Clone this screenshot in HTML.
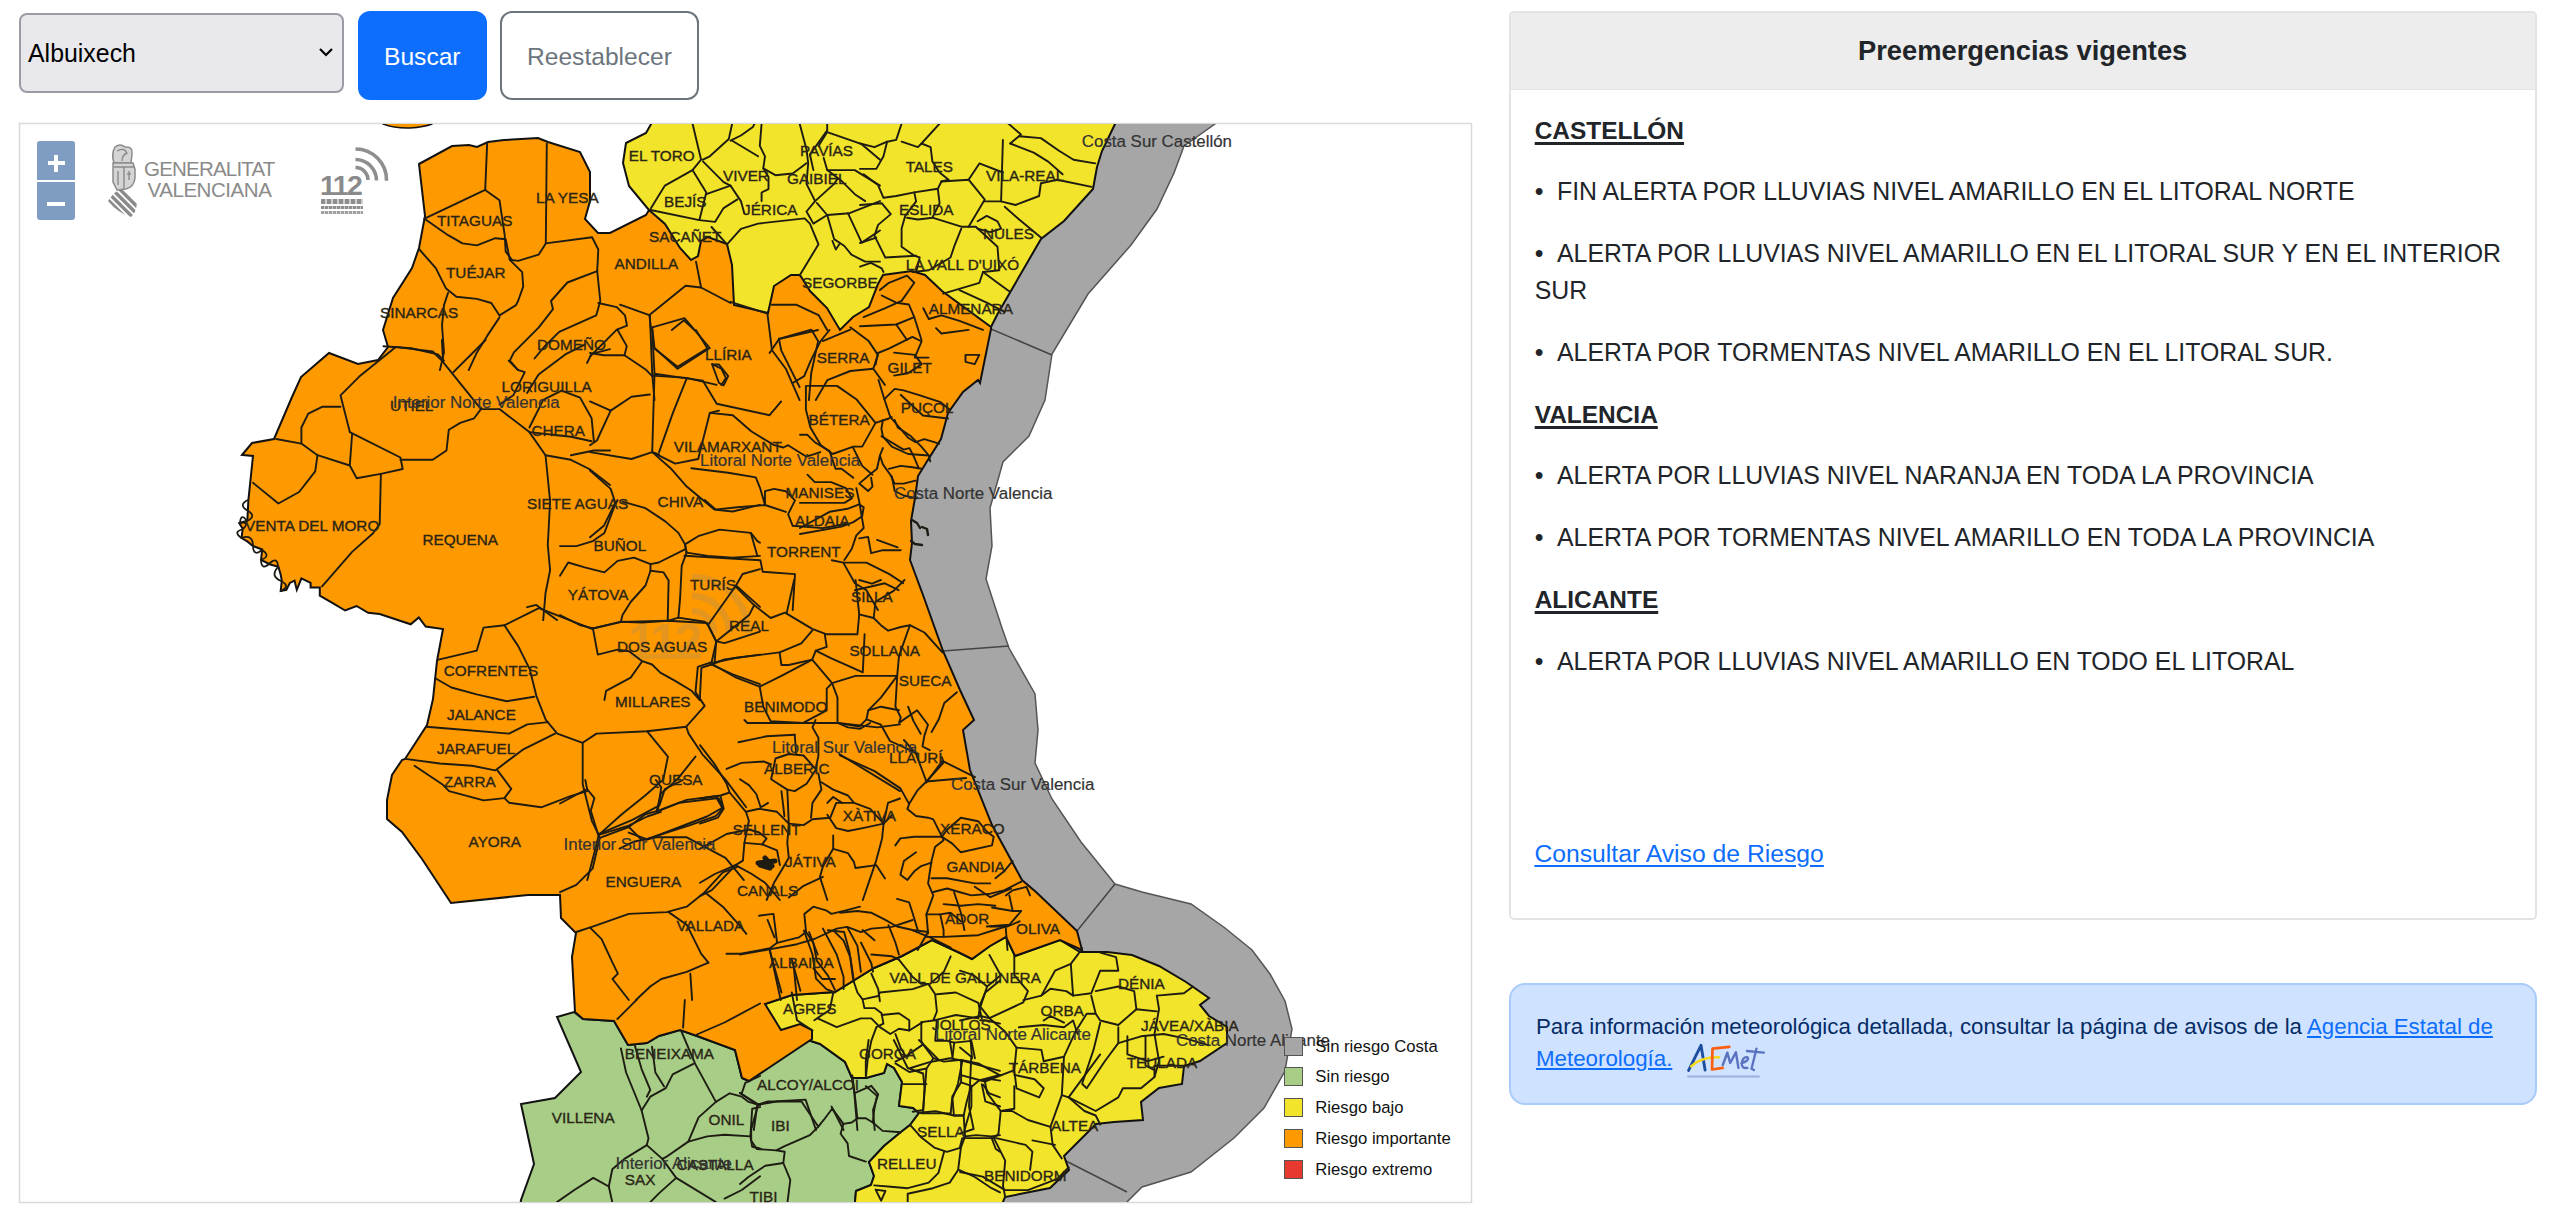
<!DOCTYPE html>
<html><head><meta charset="utf-8">
<style>
html,body{margin:0;padding:0;background:#fff;width:2560px;height:1216px;overflow:hidden;font-family:"Liberation Sans",sans-serif;}
.abs{position:absolute;}
.sel{left:19px;top:13px;width:321px;height:76px;background:#e9e9ed;border:2px solid #9b9ba6;border-radius:8px;box-sizing:content-box;}
.btn1{left:358px;top:11px;width:129px;height:89px;background:#0d6efd;border-radius:12px;}
.btn2{left:500px;top:11px;width:195px;height:85px;background:#fff;border:2px solid #6c757d;border-radius:12px;}
.card{left:1509px;top:11px;width:1024px;height:905px;border:2px solid #e3e3e3;border-radius:5px;overflow:hidden;}
.cardh{left:0;top:0;width:1024px;height:76px;background:#ededed;border-bottom:1px solid #e3e3e3;}
.t{position:absolute;white-space:nowrap;color:#212529;}
.alert{left:1509px;top:983px;width:1024px;height:118px;background:#cfe2ff;border:2px solid #a8cbfb;border-radius:16px;}
</style></head><body>
<div class="abs sel"></div>
<div class="t" style="left:28px;top:38px;font-size:24.9px;line-height:30px;color:#000">Albuixech</div>
<svg class="abs" style="left:316px;top:45px" width="20" height="14"><path d="M4 4 L10 10 L16 4" fill="none" stroke="#000" stroke-width="2.2"/></svg>
<div class="abs btn1"></div>
<div class="t" style="left:384px;top:42px;font-size:24.6px;line-height:30px;color:#fff">Buscar</div>
<div class="abs btn2"></div>
<div class="t" style="left:527px;top:42px;font-size:24.6px;line-height:30px;color:#6c757d">Reestablecer</div>

<svg class="abs" style="left:0;top:0" width="1500" height="1216">
<defs><clipPath id="mapclip"><rect x="20" y="124" width="1451" height="1078"/></clipPath></defs>
<rect x="19.5" y="123.5" width="1452" height="1079" fill="#fff" stroke="#d9d9d9" stroke-width="1.5"/>
<g clip-path="url(#mapclip)">
<polygon fill="#a6a6a6" stroke="#555" stroke-width="1.5" points="1230,110 1215,124 1184,146 1174,173 1157,209 1131,245 1088,294 1052,354 1045,400 1029,436 1003,462 990,508 992,546 986,579 1002,628 1009,648 1035,694 1038,730 1035,763 1052,799 1081,842 1094,858 1115,884 1142,892 1191,904 1225,928 1252,950 1270,974 1285,1001 1292,1029 1285,1071 1264,1108 1234,1138 1191,1172 1142,1187 1127,1202 1120,1220 1000,1220 900,900 850,500 1000,110"/>
<polyline fill="none" stroke="#444" stroke-width="1.5" points="991,329 1052,355"/>
<polyline fill="none" stroke="#444" stroke-width="1.5" points="943,651 1009,646"/>
<polyline fill="none" stroke="#444" stroke-width="1.5" points="1115,884 1077,931"/>
<polyline fill="none" stroke="#444" stroke-width="1.5" points="1064,1160 1127,1192"/>
<polygon fill="#f2e32b" stroke="#111" stroke-width="2" points="659,110 1120,110 1115,124 1102,151 1097,167 1093,189 1064,221 1041,239 1023,270 997,315 991,327 900,340 700,330 649,210 629,186 623,163 626,143 646,133"/>
<polygon fill="#a7cd87" stroke="#111" stroke-width="2" points="557,1017 574,1012 583,1019 614,1021 628,1045 647,1043 659,1036 680,1030 697,1036 735,1050 742,1078 749,1081 808,1040 820,1044 845,1062 852,1078 866,1078 884,1073 887,1064 894,1068 902,1082 899,1106 913,1108 919,1113 910,1125 901,1132 884,1146 869,1162 874,1176 871,1185 856,1191 855,1202 850,1220 518,1220 521,1200 534,1164 521,1104 555,1098 581,1072"/>
<polygon fill="#f2e32b" stroke="#111" stroke-width="2" points="765,1004 792,995 835,992 874,968 902,956 932,940 960,953 972,959 990,946 1006,937 1015,956 1060,940 1080,952 1107,952 1132,955 1159,966 1186,982 1209,998 1200,1005 1209,1016 1227,1027 1227,1043 1200,1061 1184,1066 1182,1084 1159,1088 1141,1102 1143,1120 1114,1122 1096,1124 1082,1138 1064,1156 1069,1170 1050,1188 1005,1197 1003,1202 1000,1220 850,1220 855,1202 856,1191 871,1185 874,1176 869,1162 884,1146 901,1132 910,1125 919,1113 913,1108 899,1106 902,1082 894,1068 887,1064 884,1073 866,1078 852,1078 845,1062 820,1044 808,1040 760,1045"/>
<polygon fill="#ff9900" stroke="#111" stroke-width="2" points="419,164 452,146 469,145 477,147 488,142 504,140 538,138 548,142 580,152 590,172 590,201 585,219 598,233 610,233 646,215 649,210 665,224 680,248 691,260 698,256 701,241 708,237 727,244 732,265 734,305 768,313 774,286 791,275 800,275 810,291 827,308 840,330 853,317 869,307 878,284 883,275 912,271 925,275 942,291 991,327 991,329 980,383 978,380 963,392 948,413 941,439 926,463 918,476 915,498 911,521 912,543 910,560 923,595 943,651 960,690 974,720 963,730 970,770 992,825 1022,880 1036,892 1077,931 1082,950 1060,940 1015,956 1006,937 990,946 972,959 960,953 932,940 902,956 874,968 835,992 792,995 765,1004 781,1030 800,1024 812,1030 812,1039 749,1081 742,1078 735,1050 697,1036 680,1030 659,1036 647,1043 628,1045 614,1021 583,1019 575,1012 572,957 576,933 561,918 560,895 528,895 451,903 422,859 402,832 387,819 387,800 392,775 402,760 405,759 427,725 433,699 437,661 443.0,629.0 425.7,626.6 418.8,617.4 410.7,624.3 397.0,619.7 379.7,614.0 368.2,612.8 356.6,606.0 345.1,610.5 333.6,603.6 319.8,595.6 319.8,587.5 310.6,587.5 310.6,582.9 301.4,578.3 296.8,589.8 294.5,580.6 289.9,582.9 286.4,589.8 280.7,591.0 281.8,580.6 280.7,574.8 278.4,566.8 270.3,564.5 261.0,560.0 262.2,549.5 253.0,546.0 247.3,541.4 241.5,538.0 242.7,528.8 239.2,523.0 247.3,520.7 248.4,500.0 253.0,456.0 242,455 252,443 274,439 292,397 301,377 329,353 358,364 378,360 388,347 383,330 393,298 412,268 419,248 425,216"/>
<path fill="#ff9900" stroke="#111" stroke-width="1.5" d="M380 110 L383 124 Q395 128.5 410 128 Q424 127 432 124 L434 110 Z"/>
</g>
<g opacity="0.22" fill="none" stroke="#8a8a8a">
 <g stroke-width="6.5"><path d="M692 577 A56 56 0 0 1 748 633"/><path d="M692 596 A37 37 0 0 1 729 633"/><path d="M692 611 A22 22 0 0 1 714 633"/></g>
</g>
<text x="628" y="659" font-family="Liberation Sans" font-weight="bold" font-size="50" letter-spacing="-3" fill="#8a8a8a" opacity="0.22">112</text>

<g fill="none" stroke="#1e1c12" stroke-width="1.9" stroke-linejoin="round" stroke-linecap="round" clip-path="url(#mapclip)">
<polyline points="487.2,142.6 485.2,189.9 499.5,200.2 504.7,235.2 505.7,251.6 511.9,259.8"/>
<polyline points="424.5,218.7 485.2,189.9"/>
<polyline points="424.5,218.7 448.1,235.2 462.5,243.4 476.9,245.4 495.4,238.2 505.7,239.3 509.8,259.8"/>
<polyline points="546.8,143.6 545.8,243.4 538.6,254.7 518.1,260.9 509.8,259.8"/>
<polyline points="545.8,243.4 592.1,237.2 598.3,249.5 597.2,271.1"/>
<polyline points="419.4,249.5 435.8,268.1 446.1,288.6 456.4,296.8 476.9,298.9 491.3,303.0 499.5,315.4"/>
<polyline points="509.8,259.8 522.2,272.2 523.2,286.6 518.1,301.0 516.0,305.1 499.5,315.4"/>
<polyline points="448.1,292.7 444.0,305.1 442.0,325.6 444.0,352.4 439.9,370.1"/>
<polyline points="499.5,317.4 487.2,335.9 476.9,352.4 468.7,370.1"/>
<polyline points="383.4,346.2 411.1,348.3 437.9,354.4 444.0,360.6"/>
<polyline points="597.2,271.1 567.4,282.5 551.0,301.0 553.0,309.2 538.6,327.7 513.9,352.4 509.8,360.6 518.1,370.1"/>
<polyline points="597.2,271.1 600.3,301.0 596.2,315.4 559.2,331.8 544.8,346.2 534.5,358.5"/>
<polyline points="598.3,303.0 616.8,307.1 625.0,315.4 627.0,325.6 616.8,329.7 590.0,356.5"/>
<polyline points="649.9,315.8 652.2,373.3 654.5,400.1"/>
<polyline points="652.2,327.3 684.5,318.1 709.8,348.0 677.6,368.7 654.5,348.0 652.2,327.3"/>
<polyline points="652.2,375.6 686.8,377.9 716.7,384.9"/>
<polyline points="730.5,301.9 767.4,313.5 772.0,350.3 785.8,368.7 799.6,400.1"/>
<polyline points="778.9,338.8 811.2,329.6 818.1,341.1 811.2,373.3 808.9,400.1"/>
<polyline points="778.9,338.8 781.2,350.3 799.6,387.2"/>
<polyline points="850.3,327.3 868.7,341.1 877.9,354.9 873.3,368.7 884.9,384.9"/>
<polyline points="822.7,341.1 850.3,329.6"/>
<polyline points="894.1,352.6 914.8,354.9 921.7,364.1 907.9,373.3 894.1,375.6"/>
<polyline points="815.8,400.1 827.3,380.2 850.3,371.0 873.3,368.7"/>
<polyline points="965.5,354.9 979.3,354.9 974.7,364.1 965.5,361.8 965.5,354.9"/>
<polyline points="712.1,364.1 721.3,368.7 725.9,377.9 721.3,384.9"/>
<polyline points="395.8,346.9 432.7,351.5 441.9,360.7 481.0,409.1"/>
<polyline points="395.8,346.9 359.0,376.8 340.5,395.3 349.8,432.1"/>
<polyline points="340.5,406.8 322.1,406.8 308.3,413.7 301.4,427.5 301.4,443.6"/>
<polyline points="276.1,439.0 301.4,443.6 317.5,455.2 349.8,465.5"/>
<polyline points="349.8,432.1 400.4,457.5 402.7,469.0 382.0,473.6 356.7,478.2 349.8,465.5 352.1,434.4"/>
<polyline points="400.4,459.8 432.7,459.8 446.5,450.5 448.8,429.8 460.3,422.9 474.1,418.3 481.0,409.1"/>
<polyline points="441.9,340.0 443.0,360.7"/>
<polyline points="485.6,340.0 474.1,351.5 453.4,372.2"/>
<polyline points="481.0,409.1 499.5,409.1 529.4,432.1 545.5,455.2 550.1,501.2 547.8,545.0 550.1,570.3 545.5,593.3 543.2,620.1"/>
<polyline points="317.5,455.2 315.2,471.3 299.1,492.0 278.4,503.5 253.0,482.8"/>
<polyline points="380.9,473.6 379.7,524.2 372.8,533.5 352.1,551.9 322.1,586.4"/>
<polyline points="545.5,455.2 570.9,459.8 589.3,469.0 610.0,485.1"/>
<polyline points="529.4,432.1 570.9,436.7 591.6,441.3"/>
<polyline points="508.7,360.7 517.9,369.9 524.8,372.2 513.3,395.3 499.5,404.5"/>
<polyline points="527.1,393.0 538.6,374.5 566.3,353.8 584.7,344.6"/>
<polyline points="529.4,427.5 543.2,399.9 561.6,390.7 580.1,397.6 591.6,418.3 593.9,441.3"/>
<polyline points="570.9,455.2 593.9,450.5 610.0,450.5"/>
<polyline points="527.1,607.2 536.3,604.9 557.0,620.1"/>
<polyline points="587.0,363.0 591.6,353.8 610.0,349.2"/>
<polyline points="590.0,353.0 603.8,355.3 624.5,355.3 645.3,369.2 652.2,376.1"/>
<polyline points="617.6,330.0 626.8,346.1 624.5,355.3"/>
<polyline points="652.2,330.0 654.5,373.8 652.2,452.1 659.1,454.4"/>
<polyline points="654.5,348.4 677.5,366.8 707.5,348.4 695.9,330.0"/>
<polyline points="654.5,373.8 686.7,378.4 702.9,380.7 716.7,403.7 769.6,415.2 781.2,401.4"/>
<polyline points="590.0,401.4 610.7,410.6 631.5,396.8 649.9,394.5"/>
<polyline points="610.7,410.6 596.9,440.5 590.0,445.2"/>
<polyline points="686.7,378.4 672.9,412.9 659.1,452.1"/>
<polyline points="590.0,452.1 631.5,459.0 652.2,452.1 675.2,463.6 698.2,459.0 709.8,412.9 719.0,410.6"/>
<polyline points="652.2,452.1 670.6,468.2 686.7,486.6 714.4,509.6 737.4,507.3 765.0,505.0 785.8,511.9"/>
<polyline points="590.0,470.5 610.7,488.9 615.3,502.7 603.8,525.8 590.0,537.3"/>
<polyline points="684.4,555.7 760.4,560.3 762.7,571.8 795.0,574.1 792.7,610.1"/>
<polyline points="709.8,412.9 732.8,415.2 751.2,431.3 774.2,445.2 783.5,447.5 788.1,445.2 806.5,456.7 820.3,452.1"/>
<polyline points="691.3,468.2 728.2,472.8 755.8,477.4 760.4,488.9 765.0,505.0"/>
<polyline points="769.6,353.0 778.9,339.2 818.0,330.0"/>
<polyline points="792.7,383.0 804.2,376.1 811.1,359.9 820.3,341.5 829.5,330.0"/>
<polyline points="875.6,364.5 877.9,353.0 889.4,348.4 912.4,336.9 921.6,341.5 914.7,357.6 928.6,357.6"/>
<polyline points="765.0,505.0 765.0,491.2 774.2,488.9 785.8,491.2 795.0,500.4 788.1,514.2 792.7,525.8 822.6,528.1 847.9,523.5"/>
<polyline points="831.8,560.3 843.3,562.6 854.9,583.3 866.4,590.2 877.9,610.1"/>
<polyline points="843.3,562.6 866.4,562.6 889.4,574.1 903.2,583.3"/>
<polyline points="854.9,590.2 884.8,583.3 898.6,590.2"/>
<polyline points="712.1,364.5 719.0,364.5 728.2,376.1 723.6,385.3 719.0,383.0 712.1,364.5"/>
<polyline points="437.6,659.9 476.7,650.7 483.6,627.6 504.4,625.3 538.9,608.1 591.9,628.8 621.8,621.9 667.9,620.7 707.0,623.0 716.3,641.5 711.6,662.2 697.8,666.8 695.5,692.1 704.7,705.9 686.3,726.7 688.6,733.6 702.4,754.3 725.5,779.6 746.2,807.3"/>
<polyline points="504.4,625.3 518.2,646.1 529.7,669.1 536.6,696.7 545.8,719.8 557.3,733.6 582.7,742.8 596.5,733.6 647.2,731.3 686.3,726.7"/>
<polyline points="435.3,678.3 451.4,687.5 476.7,694.4 506.7,701.3 534.3,696.7"/>
<polyline points="426.1,726.7 453.7,729.0 509.0,733.6 527.4,724.4 548.1,722.1"/>
<polyline points="405.3,758.9 439.9,763.5 472.1,765.8 495.2,770.4 522.8,749.7 555.0,733.6"/>
<polyline points="414.5,765.8 442.2,784.2 449.1,791.2 483.6,800.4 504.4,798.1 511.3,788.9 497.5,770.4"/>
<polyline points="504.4,798.1 509.0,802.7 541.2,807.3 571.2,795.8 587.3,791.2"/>
<polyline points="582.7,742.8 582.7,784.2 591.9,821.1 598.8,834.9 594.2,853.3 587.3,880.1"/>
<polyline points="647.2,731.3 667.9,756.6 663.3,779.6 644.9,795.8 621.8,814.2 598.8,834.9"/>
<polyline points="695.5,756.6 677.1,779.6 661.0,793.5 656.4,811.9 679.4,802.7 718.6,798.1 723.2,807.3 707.0,816.5 677.1,828.0 647.2,839.5 628.7,832.6"/>
<polyline points="598.8,834.9 628.7,825.7 647.2,816.5 661.0,811.9"/>
<polyline points="619.5,848.7 633.3,841.8 656.4,837.2 686.3,837.2 725.5,857.9 743.9,880.1"/>
<polyline points="734.4,585.4 754.3,605.3 770.6,618.0 785.0,612.6 812.2,628.9 826.7,634.3 857.4,634.3 859.2,614.4 855.6,580.0"/>
<polyline points="794.1,580.0 786.8,612.6"/>
<polyline points="710.9,663.2 736.2,657.8 779.6,652.4 801.3,643.3 812.2,630.7"/>
<polyline points="710.9,663.2 736.2,677.7 759.7,686.7 781.4,675.9 812.2,659.6 832.1,683.1"/>
<polyline points="779.6,652.4 781.4,665.0 788.7,665.0 812.2,659.6 815.8,650.6 826.7,646.9 824.8,634.3"/>
<polyline points="815.8,650.6 830.3,657.8 862.8,672.3 864.6,634.3"/>
<polyline points="832.1,683.1 855.6,675.9 897.2,675.9 899.0,656.0 909.9,625.2 924.4,632.5 942.4,652.4"/>
<polyline points="859.2,614.4 873.7,618.0 880.9,625.2 888.2,630.7 900.8,627.0 909.9,625.2"/>
<polyline points="759.7,686.7 763.3,706.7 770.6,721.1 803.1,722.9 826.7,710.3 826.7,688.6 832.1,683.1"/>
<polyline points="832.1,683.1 837.5,697.6 837.5,722.9 859.2,726.6 866.5,719.3"/>
<polyline points="897.2,675.9 880.9,697.6 868.3,710.3 866.5,719.3 880.9,724.7 890.0,741.0 906.3,748.3 917.1,753.7"/>
<polyline points="897.2,675.9 895.4,706.7 900.8,717.5 899.0,722.9 917.1,710.3 928.0,724.7 924.4,735.6 922.5,746.5 929.8,750.1"/>
<polyline points="956.9,692.2 944.3,703.0 938.8,719.3 931.6,732.0"/>
<polyline points="859.2,580.0 871.9,583.6 880.9,580.0"/>
<polyline points="873.7,618.0 875.5,601.7 893.6,590.9 904.5,580.0"/>
<polyline points="926.2,782.6 942.4,760.9 975.0,777.2"/>
<polyline points="868.3,710.3 880.9,706.7 899.0,710.3"/>
<polyline points="908.1,706.7 913.5,721.1 920.7,733.8"/>
<polyline points="560.0,803.5 587.1,789.0 594.4,798.1 590.8,810.8 598.0,834.3 599.8,837.9 592.6,868.7 576.3,884.9 560.0,892.2"/>
<polyline points="587.1,789.0 585.3,780.0"/>
<polyline points="598.0,834.3 632.4,819.8 659.5,805.3 664.9,789.0 683.0,780.0"/>
<polyline points="599.8,837.9 628.8,827.0 645.0,814.4 657.7,810.8 686.7,799.9 715.6,796.3 722.8,808.9 715.6,816.2 690.3,825.2 661.3,834.3 645.0,839.7"/>
<polyline points="657.7,810.8 661.3,787.2 655.9,780.0"/>
<polyline points="628.8,827.0 641.4,839.7"/>
<polyline points="737.3,866.8 722.8,872.3 704.7,892.2 686.7,906.7 666.7,912.1 628.8,913.9 592.6,926.6 576.3,932.0"/>
<polyline points="704.7,892.2 722.8,906.7 737.3,922.9 746.4,933.8"/>
<polyline points="668.6,912.1 686.7,924.7 701.1,953.7 708.4,962.7"/>
<polyline points="590.8,928.4 601.6,939.2 612.5,962.7 617.9,973.6 612.5,979.0 628.8,1000.0"/>
<polyline points="708.4,962.7 686.7,971.8 661.3,979.0 650.5,986.3 636.0,1000.0"/>
<polyline points="690.3,973.6 692.1,1000.0"/>
<polyline points="726.5,953.7 740.9,953.7 769.9,948.3 777.1,942.8 773.5,913.9 759.0,915.7"/>
<polyline points="769.9,950.1 780.7,1000.0"/>
<polyline points="777.1,942.8 798.8,937.4 806.1,932.0 804.3,913.9 813.3,906.7 826.0,910.3 831.4,913.9 845.9,910.3 860.0,906.7"/>
<polyline points="793.4,962.7 797.0,1000.0"/>
<polyline points="806.1,932.0 813.3,942.8 816.9,960.9 827.8,975.4 835.0,989.9"/>
<polyline points="827.8,930.2 844.1,932.0 849.5,951.9 853.1,979.0"/>
<polyline points="813.3,968.2 822.3,979.0 835.0,979.0"/>
<polyline points="840.0,755.5 874.5,771.1 900.4,788.4 909.1,803.9 917.7,790.1 926.4,781.5 943.6,762.5 941.9,757.3"/>
<polyline points="926.4,781.5 966.1,778.0"/>
<polyline points="903.9,740.0 916.0,753.8 926.4,781.5"/>
<polyline points="909.1,803.9 907.4,809.1 916.0,816.0 928.1,817.7 933.3,819.4 941.9,836.7 943.6,840.2 935.0,847.1 931.5,860.9 928.1,883.4 933.3,895.4 926.4,914.4 928.1,933.4"/>
<polyline points="895.3,845.4 900.4,838.4 914.3,836.7 941.9,836.7"/>
<polyline points="941.9,836.7 952.3,843.6 960.9,852.3 992.0,845.4 993.7,836.7 986.8,831.5 978.2,821.2 960.9,817.7 947.1,829.8 941.9,836.7"/>
<polyline points="916.0,852.3 903.9,860.9 900.4,874.7 907.4,879.9 914.3,871.3 921.2,866.1 931.5,862.6"/>
<polyline points="931.5,878.2 947.1,878.2 974.7,883.4 990.3,883.4"/>
<polyline points="933.3,892.0 947.1,888.5 959.2,892.0 971.3,895.4 990.3,893.7 1004.1,890.3 1021.3,881.6"/>
<polyline points="974.7,886.8 990.3,897.2 1011.0,888.5"/>
<polyline points="840.0,912.7 857.3,911.0 871.1,912.7 884.9,919.6 897.0,926.5 912.5,930.0 926.4,931.7"/>
<polyline points="926.4,914.4 940.2,914.4 943.6,930.0 943.6,936.9"/>
<polyline points="954.0,892.0 960.9,912.7 964.4,930.0"/>
<polyline points="992.0,907.5 1012.7,911.0 1021.3,911.0 1009.3,924.8 986.8,926.5"/>
<polyline points="1005.8,895.4 1012.7,890.3 1026.5,886.8 1030.0,895.4"/>
<polyline points="990.3,926.5 1007.5,926.5 1019.6,921.3"/>
<polyline points="926.4,936.9 943.6,936.9 978.2,935.2 1005.8,926.5"/>
<polyline points="897.0,898.9 909.1,902.3 912.5,912.7 917.7,930.0"/>
<polyline points="928.1,931.7 917.7,950.0"/>
<polyline points="1005.8,928.3 1007.5,950.0"/>
<polyline points="862.5,930.0 874.5,940.3"/>
<polyline points="943.6,904.1 960.9,905.8 978.2,904.1 995.4,905.8"/>
<polyline points="940.2,914.4 950.5,912.7 960.9,921.3"/>
<polyline points="995.4,878.2 1004.1,871.3 1012.7,860.9"/>
<polyline points="1009.3,895.4 1012.7,911.0"/>
<polyline points="791.8,992.5 797.0,1020.2 812.5,1030.5"/>
<polyline points="833.3,992.5 829.8,1009.8 814.3,1020.2"/>
<polyline points="817.7,1018.4 836.7,1027.1 860.9,1018.4 871.3,1018.4 879.9,1027.1 890.3,1034.0 898.9,1028.8 909.3,1030.5 923.1,1021.9 935.2,1020.2"/>
<polyline points="854.0,982.2 857.4,992.5 862.6,999.4 864.4,1008.1 874.7,1008.1 881.6,1013.3 883.4,1023.6 876.4,1027.1 871.3,1040.9 867.8,1058.2 866.1,1075.4"/>
<polyline points="871.3,973.5 878.2,989.1 879.9,1001.2"/>
<polyline points="862.6,999.4 878.2,996.0 879.9,992.5 912.7,989.1 928.3,983.9 935.2,994.3 936.9,1011.5 933.4,1020.2"/>
<polyline points="898.9,959.7 912.7,977.0 921.3,983.9 928.3,983.9"/>
<polyline points="950.7,956.3 943.8,971.8 930.0,983.9"/>
<polyline points="936.9,994.3 955.9,992.5 978.3,1002.9 981.8,1018.4"/>
<polyline points="1000.1,980.4 985.3,992.5 980.1,1004.6 978.3,1018.4 955.9,1015.0 935.2,1020.2"/>
<polyline points="881.6,1015.0 898.9,1013.3 909.3,1020.2 909.3,1030.5"/>
<polyline points="895.4,1034.0 900.6,1047.8 905.8,1056.4 895.4,1061.6"/>
<polyline points="905.8,1056.4 923.1,1044.4 933.4,1058.2 943.8,1061.6 961.1,1059.9 978.3,1063.4 1000.1,1075.4"/>
<polyline points="921.3,1021.9 921.3,1040.9 923.1,1044.4"/>
<polyline points="933.4,1058.2 926.5,1068.5 909.3,1072.0 895.4,1063.4"/>
<polyline points="936.9,1020.2 935.2,1040.9 947.3,1040.9 954.2,1042.6 971.4,1040.9 974.9,1058.2"/>
<polyline points="980.1,1020.2 985.3,1020.2 1000.1,1023.6"/>
<polyline points="954.2,1042.6 952.4,1058.2"/>
<polyline points="926.5,1068.5 923.1,1110.0 912.7,1111.7"/>
<polyline points="961.1,1059.9 961.1,1082.3 952.4,1096.2 950.7,1113.4 921.3,1113.4"/>
<polyline points="961.1,1082.3 971.4,1085.8 971.4,1106.5 964.5,1130.0"/>
<polyline points="981.8,1080.6 988.7,1078.9 1000.1,1080.6"/>
<polyline points="981.8,1084.1 985.3,1101.3 1000.1,1106.5"/>
<polyline points="902.3,1084.1 926.5,1084.1"/>
<polyline points="769.4,949.4 781.5,992.5"/>
<polyline points="791.8,959.7 800.4,990.8"/>
<polyline points="740.0,954.5 769.4,949.4 797.0,944.2 814.3,939.0 836.7,928.6 847.1,926.9 860.9,932.1 871.3,928.6 892.0,926.9 912.7,920.0"/>
<polyline points="803.9,930.4 812.5,954.5 816.0,978.7 826.4,989.1 835.0,992.5"/>
<polyline points="822.9,928.6 836.7,954.5 843.6,977.0 843.6,989.1"/>
<polyline points="833.3,930.4 843.6,940.7 850.5,958.0 854.0,982.2"/>
<polyline points="847.1,926.9 857.4,945.9 860.9,971.8"/>
<polyline points="860.9,942.5 871.3,963.2 873.0,971.8"/>
<polyline points="871.3,954.5 892.0,956.3 898.9,959.7"/>
<polyline points="888.5,925.2 895.4,942.5 898.9,954.5"/>
<polyline points="912.7,930.4 930.0,937.3 950.7,947.6"/>
<polyline points="809.1,932.1 817.7,954.5"/>
<polyline points="767.6,920.0 774.5,937.3"/>
<polyline points="740.0,1092.7 757.3,1104.8 778.0,1101.3 805.6,1099.6 816.0,1130.0"/>
<polyline points="757.3,1104.8 753.8,1130.0"/>
<polyline points="852.3,1075.4 854.0,1089.3 857.4,1130.0"/>
<polyline points="855.7,1092.7 871.3,1085.8 878.2,1094.4 873.0,1110.0 874.7,1130.0"/>
<polyline points="831.5,1106.5 843.6,1130.0"/>
<polyline points="620.9,1048.4 626.1,1072.5 641.6,1110.5 648.5,1138.2 646.8,1145.1 662.3,1158.9 676.2,1177.9 715.9,1202.1"/>
<polyline points="634.7,1044.9 641.6,1069.1 650.3,1089.8 646.8,1096.7"/>
<polyline points="652.0,1046.6 655.4,1072.5 664.1,1086.4"/>
<polyline points="641.6,1110.5 650.3,1096.7 665.8,1088.1 672.7,1074.3 693.4,1063.9"/>
<polyline points="681.3,1031.1 695.2,1063.9 715.9,1101.9"/>
<polyline points="715.9,1101.9 729.7,1093.3 741.8,1096.7 748.7,1101.9 760.1,1105.4"/>
<polyline points="715.9,1101.9 698.6,1117.4 688.3,1141.6 665.8,1157.2 662.3,1158.9"/>
<polyline points="688.3,1141.6 707.3,1136.4 724.5,1134.7 750.4,1136.4 752.2,1108.8 760.1,1107.1"/>
<polyline points="750.4,1136.4 752.2,1146.8 760.1,1148.5"/>
<polyline points="741.8,1093.3 745.3,1082.9 760.1,1076.0"/>
<polyline points="646.8,1145.1 624.4,1158.9 612.3,1169.3 608.8,1186.5 612.3,1202.1"/>
<polyline points="557.0,1202.1 574.3,1190.0 593.3,1177.9 608.8,1186.5"/>
<polyline points="676.2,1177.9 658.9,1193.4 650.3,1202.1"/>
<polyline points="760.1,1176.2 741.8,1190.0 724.5,1198.6"/>
<polyline points="684.8,1000.0 683.1,1027.6"/>
<polyline points="617.4,1019.0 631.3,1005.2 636.4,1000.0"/>
<polyline points="696.9,1034.5 724.5,1022.5 760.1,1003.5"/>
<polyline points="740.0,1093.1 758.2,1104.3 768.0,1101.5 801.5,1101.5 818.3,1126.7 823.9,1119.7 832.3,1108.5 843.4,1123.9 851.8,1122.5 857.4,1118.3 865.8,1118.3 872.8,1122.5 882.6,1130.9 900.7,1132.3"/>
<polyline points="758.2,1104.3 751.2,1129.5 751.2,1140.6 756.8,1149.0 776.3,1150.4 784.7,1146.2 809.9,1135.1 818.3,1126.7"/>
<polyline points="851.8,1077.7 854.6,1093.1 857.4,1118.3"/>
<polyline points="865.8,1086.1 877.0,1095.9 874.2,1109.9 872.8,1122.5"/>
<polyline points="843.4,1123.9 840.6,1133.7 847.6,1143.4 849.0,1156.0 865.8,1161.6"/>
<polyline points="776.3,1150.4 784.7,1151.8 783.3,1163.0 790.3,1179.8 787.5,1202.1"/>
<polyline points="783.3,1163.0 765.2,1165.8 748.4,1177.0 740.0,1184.0"/>
<polyline points="868.6,1040.0 865.8,1061.0 865.8,1076.3"/>
<polyline points="893.8,1040.0 900.7,1054.0 907.7,1068.0 923.1,1073.5 924.5,1087.5 923.1,1112.7"/>
<polyline points="910.5,1068.0 928.7,1062.4 949.7,1058.2 963.7,1061.0 984.6,1066.6 1000.0,1070.8"/>
<polyline points="918.9,1040.0 930.1,1051.2 938.5,1059.6"/>
<polyline points="949.7,1040.0 952.5,1056.8"/>
<polyline points="970.6,1040.0 972.0,1058.2"/>
<polyline points="962.3,1061.0 958.1,1083.3 952.5,1098.7 953.9,1115.5 963.7,1115.5 966.4,1102.9 970.6,1087.5 979.0,1080.5 1000.0,1074.9"/>
<polyline points="918.9,1112.7 935.7,1111.3 953.9,1115.5 963.7,1115.5 965.0,1136.4 976.2,1135.1 991.6,1136.4 1000.0,1135.1"/>
<polyline points="965.0,1136.4 960.9,1147.6 946.9,1151.8 934.3,1147.6 921.7,1137.8 910.5,1125.3"/>
<polyline points="960.9,1147.6 958.1,1170.0 949.7,1182.6 932.9,1188.2 907.7,1193.8 907.7,1202.1"/>
<polyline points="944.1,1151.8 938.5,1172.8 928.7,1182.6 907.7,1188.2 891.0,1186.8 874.2,1185.4"/>
<polyline points="959.5,1170.0 974.8,1177.0 991.6,1188.2 1000.0,1192.4"/>
<polyline points="983.2,1084.7 988.8,1093.1 1000.0,1097.3"/>
<polyline points="991.6,1137.8 995.8,1149.0 1000.0,1151.8"/>
<polyline points="875.6,1189.6 885.4,1191.0 881.2,1200.7 875.6,1189.6"/>
<polyline points="989.4,954.9 1000.7,975.2 987.1,986.5 980.4,1006.9 989.4,1018.2 1023.3,1002.4 1027.9,991.1 1014.3,975.2 1014.3,954.9"/>
<polyline points="960.0,1020.5 980.4,1016.0 989.4,1018.2"/>
<polyline points="1023.3,1000.1 1041.4,995.6 1055.0,970.7 1070.8,963.9 1077.6,954.9 1082.1,948.1"/>
<polyline points="1070.8,963.9 1073.1,995.6 1091.2,993.3 1095.7,982.0 1100.2,970.7 1118.3,970.7 1116.1,957.1 1100.2,952.6"/>
<polyline points="1041.4,995.6 1050.5,988.8 1066.3,991.1 1073.1,995.6"/>
<polyline points="989.4,1018.2 1005.2,1031.8 1016.5,1047.6 1014.3,1070.2 984.9,1081.5 960.0,1074.8"/>
<polyline points="1016.5,1047.6 1041.4,1049.9 1043.7,1061.2 1064.0,1056.7 1075.4,1031.8 1086.7,1013.7 1095.7,1013.7 1100.2,1020.5 1118.3,1025.0 1136.4,1009.2 1156.8,1011.4"/>
<polyline points="1095.7,1013.7 1091.2,995.6"/>
<polyline points="1018.8,1027.3 1043.7,1025.0 1064.0,1027.3 1073.1,1020.5 1077.6,1034.0"/>
<polyline points="1043.7,1020.5 1050.5,1016.0 1064.0,1022.7"/>
<polyline points="1100.2,1022.7 1093.5,1049.9 1082.1,1083.8 1086.7,1088.3 1104.8,1061.2 1118.3,1043.1 1118.3,1027.3"/>
<polyline points="1064.0,1056.7 1061.8,1095.1 1068.6,1097.4 1100.2,1054.4"/>
<polyline points="1068.6,1097.4 1095.7,1111.0 1118.3,1097.4 1122.9,1088.3 1141.0,1088.3 1154.5,1077.0 1154.5,1065.7 1186.2,1065.7"/>
<polyline points="1118.3,1043.1 1141.0,1036.3 1163.6,1034.0 1186.2,1038.6 1208.8,1045.4"/>
<polyline points="1156.8,995.6 1159.0,1009.2 1154.5,1034.0 1159.0,1061.2 1154.5,1077.0"/>
<polyline points="1127.4,1036.3 1127.4,1054.4 1147.7,1061.2 1163.6,1056.7"/>
<polyline points="1136.4,1009.2 1134.2,991.1 1118.3,986.5 1095.7,991.1"/>
<polyline points="1156.8,995.6 1183.9,993.3 1193.0,986.5"/>
<polyline points="1145.5,1036.3 1145.5,1065.7 1154.5,1070.2"/>
<polyline points="1014.3,1070.2 1016.5,1088.3 1039.2,1097.4 1043.7,1088.3 1034.6,1079.3 1014.3,1074.8"/>
<polyline points="1014.3,1086.1 1014.3,1108.7 1000.7,1111.0 987.1,1092.9 984.9,1081.5"/>
<polyline points="960.0,1047.6 971.3,1056.7 969.0,1106.4 973.6,1129.0 960.0,1133.6"/>
<polyline points="1000.7,1111.0 998.5,1133.6 993.9,1138.1 962.3,1138.1 960.0,1147.1"/>
<polyline points="1000.7,1111.0 1012.0,1111.0 1027.9,1120.0 1050.5,1126.8 1061.8,1095.1"/>
<polyline points="1050.5,1126.8 1052.7,1144.9 1061.8,1158.5"/>
<polyline points="993.9,1138.1 1005.2,1160.7 1003.0,1185.6 1005.2,1196.9"/>
<polyline points="996.2,1138.1 1025.6,1144.9 1032.4,1151.7 1030.1,1169.8"/>
<polyline points="1032.4,1140.4 1055.0,1144.9"/>
<polyline points="960.0,1172.0 982.6,1176.6 1005.2,1190.1 1027.9,1190.1 1057.3,1178.8 1068.6,1167.5"/>
<polyline points="1068.6,1097.4 1084.4,1111.0 1095.7,1115.5 1100.2,1124.5"/>
<polyline points="960.0,970.7 973.6,975.2 987.1,986.5"/>
<polyline points="560.0,546.1 576.4,546.1 592.9,541.1 604.4,532.9 614.3,506.6 617.6,500.0"/>
<polyline points="622.5,501.6 645.5,508.2 665.3,521.4 678.4,532.9 685.0,544.4 686.6,552.6"/>
<polyline points="686.6,552.6 685.0,544.4 698.2,536.2 719.5,529.6 750.8,532.9 757.4,555.9"/>
<polyline points="686.6,552.6 708.0,555.9 732.7,557.6 760.0,555.9"/>
<polyline points="560.0,575.7 568.2,562.5 584.7,567.4 604.4,572.4 617.6,560.9 634.0,557.6 650.5,564.1 658.7,562.5 685.0,549.3"/>
<polyline points="650.5,564.1 650.5,570.7 645.5,585.5 630.7,602.0 622.5,615.1 620.9,621.7"/>
<polyline points="650.5,570.7 663.6,572.4 668.6,580.6 667.7,620.9"/>
<polyline points="686.6,552.6 681.7,565.8 680.1,598.7 678.4,617.6"/>
<polyline points="560.0,615.1 579.7,625.0 592.9,628.3 620.9,621.7 642.2,622.5 667.7,620.9 678.4,617.6 704.7,621.7 708.0,625.0 736.0,585.5 760.0,606.9"/>
<polyline points="736.0,585.5 742.6,574.0 760.0,569.1"/>
<polyline points="708.0,625.0 716.2,641.4 714.6,662.8 711.3,664.5 701.4,667.8 699.8,700.0"/>
<polyline points="716.2,641.4 749.1,615.1 754.1,605.3"/>
<polyline points="716.2,641.4 724.5,643.1 760.0,631.6"/>
<polyline points="592.9,628.3 597.8,654.6 617.6,649.7 629.1,651.3 642.2,661.2 652.1,664.5 660.3,672.7 675.1,680.9 691.6,690.8 699.8,700.0"/>
<polyline points="711.3,664.5 724.5,659.5 760.0,654.6"/>
<polyline points="711.3,664.5 732.7,674.3 760.0,684.2"/>
<polyline points="642.2,661.2 630.7,677.6 606.1,690.8 604.4,700.0"/>
<polyline points="704.7,500.0 716.2,509.9 732.7,511.5 760.0,504.9"/>
<polyline points="750.8,532.9 757.4,541.1 760.0,542.8"/>
<polyline points="692.5,123.5 701.1,159.7 692.5,170.1 664.9,185.6 651.1,208.1"/>
<polyline points="702.9,159.7 709.8,156.3 728.8,139.0 732.2,123.5"/>
<polyline points="730.5,140.7 740.9,135.5 752.9,126.9 754.7,123.5"/>
<polyline points="761.6,123.5 759.8,145.9 765.0,156.3 763.3,168.3 775.4,175.2 792.7,173.5 806.5,163.2"/>
<polyline points="732.2,140.7 758.1,156.3"/>
<polyline points="702.9,161.4 723.6,182.2 730.5,185.6 740.9,201.1 744.3,213.2"/>
<polyline points="692.5,170.1 706.3,192.5 699.4,220.1 649.4,209.8"/>
<polyline points="706.3,194.2 730.5,185.6"/>
<polyline points="699.4,220.1 715.0,221.9 723.6,208.1 737.4,199.4"/>
<polyline points="711.5,227.0 727.0,244.3 740.9,228.8 758.1,223.6 804.7,218.4 809.9,223.6 818.5,244.3 799.6,275.4"/>
<polyline points="763.3,168.3 768.5,177.0 768.5,189.1 761.6,192.5 761.6,201.1"/>
<polyline points="799.6,123.5 806.5,149.4 808.2,163.2 806.5,183.9 815.1,201.1 806.5,211.5 813.4,223.6 827.2,215.0 816.8,202.9"/>
<polyline points="827.2,123.5 827.2,130.4 809.9,154.5 813.4,170.1"/>
<polyline points="818.5,145.9 827.2,132.1 861.7,144.2 880.0,159.7"/>
<polyline points="823.7,158.0 827.2,170.1 841.0,180.4 854.8,194.2 865.2,201.1"/>
<polyline points="827.2,170.1 854.8,170.1 880.0,185.6"/>
<polyline points="815.1,201.1 834.1,183.9 837.5,178.7"/>
<polyline points="827.2,215.0 849.6,213.2 880.0,201.1"/>
<polyline points="827.2,215.0 834.1,239.1 844.4,246.0 851.4,254.7 865.2,261.6 880.0,261.6"/>
<polyline points="847.9,213.2 861.7,242.6 880.0,230.5"/>
<polyline points="620.0,304.7 649.4,315.1 685.6,285.7 701.1,287.5 730.5,303.0"/>
<polyline points="649.4,315.1 651.1,329.9"/>
<polyline points="696.0,261.6 701.1,287.5"/>
<polyline points="771.9,304.7 796.1,304.7 818.5,315.1 827.2,329.9"/>
<polyline points="671.8,329.9 683.9,320.3 694.2,329.9"/>
<polyline points="832.4,240.9 835.8,249.5 839.3,244.3"/>
<polyline points="860.0,143.5 874.5,147.1 887.1,141.7 896.2,139.9 901.6,123.6"/>
<polyline points="901.6,141.7 917.9,147.1 921.5,143.5 939.6,123.6"/>
<polyline points="921.5,143.5 930.6,147.1 932.4,161.6 939.6,172.5 948.7,179.7 941.4,181.5"/>
<polyline points="860.0,168.9 876.3,168.9 883.5,156.2 887.1,141.7"/>
<polyline points="863.6,174.3 878.1,185.1 883.5,197.8 896.2,196.0 914.3,192.4 937.8,188.8 941.4,181.5"/>
<polyline points="914.3,192.4 916.1,201.4 905.2,215.9 901.6,228.6 901.6,246.7 914.3,255.7 919.7,257.5 916.1,272.0"/>
<polyline points="937.8,188.8 939.6,203.2 932.4,217.7 917.9,219.5 907.0,217.7"/>
<polyline points="860.0,205.0 881.7,203.2 890.8,214.1 878.1,224.9 874.5,235.8 885.3,257.5 916.1,255.7"/>
<polyline points="860.0,243.0 876.3,237.6"/>
<polyline points="941.4,181.5 968.6,179.7 984.8,199.6 968.6,226.7"/>
<polyline points="932.4,217.7 961.3,226.7 975.8,226.7 997.5,246.7 999.3,270.2 983.0,272.0 979.4,282.8 943.2,293.7"/>
<polyline points="961.3,228.6 954.1,246.7 950.5,257.5 928.8,270.2 912.5,272.0"/>
<polyline points="968.6,179.7 979.4,163.4 1002.9,172.5"/>
<polyline points="1002.9,139.9 1001.1,201.4 984.8,201.4"/>
<polyline points="1001.1,201.4 1015.6,205.0 1039.1,196.0 1040.9,183.3 1057.2,179.7 1091.6,186.9"/>
<polyline points="1010.2,143.5 1033.7,152.6 1048.2,161.6 1062.6,174.3"/>
<polyline points="1010.2,143.5 1021.0,134.5 1008.4,123.6"/>
<polyline points="1019.2,136.3 1040.9,138.1 1059.0,150.8 1073.5,159.8 1095.2,163.4"/>
<polyline points="1004.7,206.8 1019.2,219.5 1040.9,237.6"/>
<polyline points="977.6,221.3 986.7,215.9 997.5,221.3 1001.1,228.6 990.3,232.2 977.6,228.6"/>
<polyline points="983.0,272.0 997.5,282.8 1010.2,291.9"/>
<polyline points="959.5,290.1 986.7,302.7 1004.7,311.8"/>
<polyline points="860.0,266.6 870.9,262.9 881.7,268.4 883.5,272.0"/>
<polyline points="879.9,290.1 888.9,282.8 907.0,275.6 914.3,282.8 901.6,300.9 885.3,308.2 863.6,317.2"/>
<polyline points="881.7,295.5 896.2,302.7 908.9,304.5 914.3,317.2 896.2,324.5 860.0,326.3"/>
<polyline points="923.3,308.2 928.8,319.0 941.4,315.4 959.5,320.8 983.0,329.9"/>
<polyline points="936.0,328.1 941.4,333.5 968.6,329.9"/>
<polyline points="896.2,324.5 907.0,340.0"/>
<polyline points="914.3,317.2 921.5,340.0"/>
<polyline points="807.4,385.9 837.0,385.9 856.3,399.2 875.5,422.9 888.8,418.5 891.8,417.0"/>
<polyline points="805.9,385.9 805.9,409.6 810.4,427.4 820.7,445.1 832.6,454.0 853.3,446.6 862.2,446.6 875.5,422.9"/>
<polyline points="878.5,380.0 884.4,399.2 894.7,388.9 903.6,390.4 918.4,394.8 940.6,402.2 949.5,409.6"/>
<polyline points="884.4,399.2 890.3,417.0 908.1,437.7 915.5,442.2 924.4,439.2 939.2,443.7"/>
<polyline points="900.7,394.8 922.9,415.5 948.0,418.5"/>
<polyline points="882.9,420.0 881.4,428.9 882.9,436.3 891.8,446.6 908.1,454.0 928.8,455.5"/>
<polyline points="894.7,420.0 897.7,427.4 911.0,436.3 921.4,446.6 928.8,455.5 930.3,461.4"/>
<polyline points="881.4,436.3 903.6,449.6 909.5,448.1 914.0,457.0 918.4,467.3"/>
<polyline points="879.9,455.5 882.9,464.4 890.3,474.7 894.7,483.6 903.6,483.6 915.5,480.7"/>
<polyline points="882.9,448.1 879.9,455.5 877.0,468.8 869.6,474.7 859.2,483.6 868.1,491.0 872.5,486.6 871.1,477.7"/>
<polyline points="853.3,448.1 862.2,465.9 872.5,474.7"/>
<polyline points="807.4,474.7 814.8,482.1 831.1,482.1 845.9,488.1 851.8,498.4 844.4,502.9 800.0,502.9"/>
<polyline points="800.0,528.0 829.6,511.8 847.4,508.8 859.2,504.4 863.7,507.3 862.2,516.2 853.3,522.1 841.5,526.6 800.0,534.0"/>
<polyline points="888.8,468.8 900.7,465.9 912.5,467.3 921.4,468.8"/>
<polyline points="891.8,476.2 894.7,491.0 903.6,495.5 917.0,498.4"/>
<polyline points="856.3,488.1 859.2,501.4 863.7,528.0 856.3,535.4 851.8,548.8 844.4,560.0"/>
<polyline points="859.2,538.4 868.1,536.9 871.1,553.2 882.9,550.2 900.7,550.2"/>
<polyline points="877.0,539.9 897.7,547.3"/>
<polyline points="800.0,434.8 807.4,434.8 814.8,442.2 829.6,451.1 835.5,468.8 841.5,468.8 853.3,477.7"/>
<polyline points="700.0,745.2 714.8,764.4 726.6,783.7 729.6,792.5 745.9,811.8 748.9,820.7 744.4,842.9 742.9,860.6 735.5,865.1 714.8,874.0 700.0,882.8"/>
<polyline points="700.0,798.5 720.7,795.5 729.6,792.5"/>
<polyline points="700.0,823.6 717.8,817.7 723.7,808.8 720.7,797.0"/>
<polyline points="738.5,742.2 766.6,736.3 794.7,734.8"/>
<polyline points="794.7,734.8 796.2,754.0"/>
<polyline points="815.5,720.0 812.5,727.4 818.4,737.8 818.4,755.5 815.5,770.3 806.6,783.7 794.7,791.1 787.3,789.6 771.1,779.2 775.5,758.5 788.8,754.0 803.6,755.5 815.5,768.9"/>
<polyline points="744.4,720.0 747.4,723.0 837.7,723.0 877.6,727.4 900.0,724.4"/>
<polyline points="837.7,723.0 848.0,727.4 859.9,728.9 870.2,723.0"/>
<polyline points="726.6,768.9 741.5,762.9 763.7,761.5 771.1,764.4"/>
<polyline points="740.0,779.2 748.9,785.1 756.3,794.0 760.7,807.3 768.1,802.9"/>
<polyline points="745.9,811.8 759.2,808.8 777.0,811.8 788.8,823.6 803.6,825.1 812.5,819.2 830.3,817.7 836.2,802.9 854.0,802.9 870.2,808.8 883.6,823.6"/>
<polyline points="787.3,789.6 788.8,823.6 787.3,842.9 788.8,857.7 782.9,868.0 774.0,882.8 766.6,900.0"/>
<polyline points="818.4,773.3 821.4,789.6 812.5,802.9 811.0,817.7"/>
<polyline points="821.4,782.2 833.2,789.6 848.0,795.5 854.0,802.9"/>
<polyline points="827.3,814.7 836.2,828.1 848.0,831.0 862.8,828.1 883.6,823.6 892.5,814.7"/>
<polyline points="744.4,842.9 762.2,844.4 777.0,850.3 779.9,865.1"/>
<polyline points="700.0,848.8 726.6,834.0 748.9,829.5 759.2,832.5 766.6,838.4 762.2,844.4"/>
<polyline points="833.2,835.5 833.2,848.8 822.9,866.6 819.9,876.9 827.3,900.0"/>
<polyline points="833.2,848.8 848.0,853.2 854.0,862.1 855.4,868.0 876.2,865.1 885.0,878.4"/>
<polyline points="883.6,823.6 882.1,838.4 876.2,860.6 862.8,900.0"/>
<polyline points="839.2,754.0 900.0,791.1"/>
<polyline points="883.6,823.6 888.0,802.9 900.0,798.5"/>
<polyline points="822.9,876.9 803.6,885.8 788.8,897.6"/>
<polyline points="700.0,896.2 711.8,890.2 735.5,865.1"/>
<polyline points="735.5,865.1 751.8,874.0 765.1,882.8 779.9,900.0"/>
<polyline points="781.4,791.1 782.9,802.9 784.4,816.2"/>
<polyline points="827.3,802.9 833.2,797.0 842.1,802.9"/><path stroke-width="5" d="M758 863 L775 861 M760 865 L770 868 M765 858 L772 866"/>
<path stroke-width="2.4" d="M912 520 L917 523 L920 528 M922 527 L927 529 L928 535 M911 541 L915 544 L922 545"/>
<path stroke-width="1.8" d="M248.0 500.0 Q237.8 504.8 247.5 510.5 Q257.2 516.2 247.0 521.0 Q240.8 512.4 240.0 523.0 Q250.4 521.5 243.0 529.0 Q232.4 531.9 241.5 538.0 Q253.0 533.8 253.0 546.0 Q253.4 557.1 262.0 550.0 Q271.5 556.0 261.0 560.0 Q261.4 571.0 269.5 563.5 Q277.6 556.0 278.0 567.0 Q269.7 576.1 281.0 581.0 Q291.0 586.0 281.0 591.0"/>

</g>
</svg>
<div class="t" style="left:437.0px;top:213.0px;font-size:15.3px;line-height:15.3px;color:#2a2515;-webkit-text-stroke:0.35px #2a2515">TITAGUAS</div>
<div class="t" style="left:536.0px;top:190.0px;font-size:15.3px;line-height:15.3px;color:#2a2515;-webkit-text-stroke:0.35px #2a2515">LA YESA</div>
<div class="t" style="left:446.0px;top:264.5px;font-size:15.3px;line-height:15.3px;color:#2a2515;-webkit-text-stroke:0.35px #2a2515">TUÉJAR</div>
<div class="t" style="left:380.0px;top:304.5px;font-size:15.3px;line-height:15.3px;color:#2a2515;-webkit-text-stroke:0.35px #2a2515">SINARCAS</div>
<div class="t" style="left:537.0px;top:336.6px;font-size:15.3px;line-height:15.3px;color:#2a2515;-webkit-text-stroke:0.35px #2a2515">DOMEÑO</div>
<div class="t" style="left:501.5px;top:378.6px;font-size:15.3px;line-height:15.3px;color:#2a2515;-webkit-text-stroke:0.35px #2a2515">LORIGUILLA</div>
<div class="t" style="left:390.0px;top:398.0px;font-size:15.3px;line-height:15.3px;color:#2a2515;-webkit-text-stroke:0.35px #2a2515">UTIEL</div>
<div class="t" style="left:531.5px;top:423.0px;font-size:15.3px;line-height:15.3px;color:#2a2515;-webkit-text-stroke:0.35px #2a2515">CHERA</div>
<div class="t" style="left:527.0px;top:496.0px;font-size:15.3px;line-height:15.3px;color:#2a2515;-webkit-text-stroke:0.35px #2a2515">SIETE AGUAS</div>
<div class="t" style="left:657.6px;top:494.0px;font-size:15.3px;line-height:15.3px;color:#2a2515;-webkit-text-stroke:0.35px #2a2515">CHIVA</div>
<div class="t" style="left:245.0px;top:517.5px;font-size:15.3px;line-height:15.3px;color:#2a2515;-webkit-text-stroke:0.35px #2a2515">VENTA DEL MORO</div>
<div class="t" style="left:422.4px;top:531.6px;font-size:15.3px;line-height:15.3px;color:#2a2515;-webkit-text-stroke:0.35px #2a2515">REQUENA</div>
<div class="t" style="left:593.5px;top:537.6px;font-size:15.3px;line-height:15.3px;color:#2a2515;-webkit-text-stroke:0.35px #2a2515">BUÑOL</div>
<div class="t" style="left:567.8px;top:587.0px;font-size:15.3px;line-height:15.3px;color:#2a2515;-webkit-text-stroke:0.35px #2a2515">YÁTOVA</div>
<div class="t" style="left:617.0px;top:639.0px;font-size:15.3px;line-height:15.3px;color:#2a2515;-webkit-text-stroke:0.35px #2a2515">DOS AGUAS</div>
<div class="t" style="left:443.8px;top:663.0px;font-size:15.3px;line-height:15.3px;color:#2a2515;-webkit-text-stroke:0.35px #2a2515">COFRENTES</div>
<div class="t" style="left:614.9px;top:694.0px;font-size:15.3px;line-height:15.3px;color:#2a2515;-webkit-text-stroke:0.35px #2a2515">MILLARES</div>
<div class="t" style="left:447.0px;top:707.0px;font-size:15.3px;line-height:15.3px;color:#2a2515;-webkit-text-stroke:0.35px #2a2515">JALANCE</div>
<div class="t" style="left:437.0px;top:741.0px;font-size:15.3px;line-height:15.3px;color:#2a2515;-webkit-text-stroke:0.35px #2a2515">JARAFUEL</div>
<div class="t" style="left:443.8px;top:774.0px;font-size:15.3px;line-height:15.3px;color:#2a2515;-webkit-text-stroke:0.35px #2a2515">ZARRA</div>
<div class="t" style="left:649.0px;top:772.0px;font-size:15.3px;line-height:15.3px;color:#2a2515;-webkit-text-stroke:0.35px #2a2515">QUESA</div>
<div class="t" style="left:468.6px;top:834.0px;font-size:15.3px;line-height:15.3px;color:#2a2515;-webkit-text-stroke:0.35px #2a2515">AYORA</div>
<div class="t" style="left:605.5px;top:873.7px;font-size:15.3px;line-height:15.3px;color:#2a2515;-webkit-text-stroke:0.35px #2a2515">ENGUERA</div>
<div class="t" style="left:628.7px;top:148.0px;font-size:15.3px;line-height:15.3px;color:#2a2515;-webkit-text-stroke:0.35px #2a2515">EL TORO</div>
<div class="t" style="left:800.0px;top:142.5px;font-size:15.3px;line-height:15.3px;color:#2a2515;-webkit-text-stroke:0.35px #2a2515">PAVÍAS</div>
<div class="t" style="left:723.0px;top:168.0px;font-size:15.3px;line-height:15.3px;color:#2a2515;-webkit-text-stroke:0.35px #2a2515">VIVER</div>
<div class="t" style="left:787.0px;top:171.0px;font-size:15.3px;line-height:15.3px;color:#2a2515;-webkit-text-stroke:0.35px #2a2515">GAIBIEL</div>
<div class="t" style="left:905.7px;top:159.0px;font-size:15.3px;line-height:15.3px;color:#2a2515;-webkit-text-stroke:0.35px #2a2515">TALES</div>
<div class="t" style="left:986.0px;top:168.0px;font-size:15.3px;line-height:15.3px;color:#2a2515;-webkit-text-stroke:0.35px #2a2515">VILA-REAL</div>
<div class="t" style="left:664.0px;top:194.0px;font-size:15.3px;line-height:15.3px;color:#2a2515;-webkit-text-stroke:0.35px #2a2515">BEJÍS</div>
<div class="t" style="left:743.0px;top:202.0px;font-size:15.3px;line-height:15.3px;color:#2a2515;-webkit-text-stroke:0.35px #2a2515">JÉRICA</div>
<div class="t" style="left:899.0px;top:201.7px;font-size:15.3px;line-height:15.3px;color:#2a2515;-webkit-text-stroke:0.35px #2a2515">ESLIDA</div>
<div class="t" style="left:983.0px;top:226.0px;font-size:15.3px;line-height:15.3px;color:#2a2515;-webkit-text-stroke:0.35px #2a2515">NULES</div>
<div class="t" style="left:649.0px;top:228.7px;font-size:15.3px;line-height:15.3px;color:#2a2515;-webkit-text-stroke:0.35px #2a2515">SACAÑET</div>
<div class="t" style="left:614.5px;top:255.7px;font-size:15.3px;line-height:15.3px;color:#2a2515;-webkit-text-stroke:0.35px #2a2515">ANDILLA</div>
<div class="t" style="left:905.7px;top:256.7px;font-size:15.3px;line-height:15.3px;color:#2a2515;-webkit-text-stroke:0.35px #2a2515">LA VALL D'UIXÓ</div>
<div class="t" style="left:802.0px;top:274.8px;font-size:15.3px;line-height:15.3px;color:#2a2515;-webkit-text-stroke:0.35px #2a2515">SEGORBE</div>
<div class="t" style="left:928.7px;top:301.0px;font-size:15.3px;line-height:15.3px;color:#2a2515;-webkit-text-stroke:0.35px #2a2515">ALMENARA</div>
<div class="t" style="left:705.0px;top:346.5px;font-size:15.3px;line-height:15.3px;color:#2a2515;-webkit-text-stroke:0.35px #2a2515">LLÍRIA</div>
<div class="t" style="left:816.8px;top:349.8px;font-size:15.3px;line-height:15.3px;color:#2a2515;-webkit-text-stroke:0.35px #2a2515">SERRA</div>
<div class="t" style="left:887.6px;top:360.0px;font-size:15.3px;line-height:15.3px;color:#2a2515;-webkit-text-stroke:0.35px #2a2515">GILET</div>
<div class="t" style="left:900.7px;top:399.8px;font-size:15.3px;line-height:15.3px;color:#2a2515;-webkit-text-stroke:0.35px #2a2515">PUÇOL</div>
<div class="t" style="left:808.6px;top:412.0px;font-size:15.3px;line-height:15.3px;color:#2a2515;-webkit-text-stroke:0.35px #2a2515">BÉTERA</div>
<div class="t" style="left:673.8px;top:439.0px;font-size:15.3px;line-height:15.3px;color:#2a2515;-webkit-text-stroke:0.35px #2a2515">VILAMARXANT</div>
<div class="t" style="left:785.6px;top:485.0px;font-size:15.3px;line-height:15.3px;color:#2a2515;-webkit-text-stroke:0.35px #2a2515">MANISES</div>
<div class="t" style="left:795.0px;top:513.0px;font-size:15.3px;line-height:15.3px;color:#2a2515;-webkit-text-stroke:0.35px #2a2515">ALDAIA</div>
<div class="t" style="left:767.0px;top:544.0px;font-size:15.3px;line-height:15.3px;color:#2a2515;-webkit-text-stroke:0.35px #2a2515">TORRENT</div>
<div class="t" style="left:690.0px;top:577.0px;font-size:15.3px;line-height:15.3px;color:#2a2515;-webkit-text-stroke:0.35px #2a2515">TURÍS</div>
<div class="t" style="left:851.0px;top:588.7px;font-size:15.3px;line-height:15.3px;color:#2a2515;-webkit-text-stroke:0.35px #2a2515">SILLA</div>
<div class="t" style="left:729.0px;top:618.0px;font-size:15.3px;line-height:15.3px;color:#2a2515;-webkit-text-stroke:0.35px #2a2515">REAL</div>
<div class="t" style="left:849.4px;top:643.0px;font-size:15.3px;line-height:15.3px;color:#2a2515;-webkit-text-stroke:0.35px #2a2515">SOLLANA</div>
<div class="t" style="left:898.8px;top:672.6px;font-size:15.3px;line-height:15.3px;color:#2a2515;-webkit-text-stroke:0.35px #2a2515">SUECA</div>
<div class="t" style="left:744.0px;top:699.0px;font-size:15.3px;line-height:15.3px;color:#2a2515;-webkit-text-stroke:0.35px #2a2515">BENIMODO</div>
<div class="t" style="left:889.0px;top:750.0px;font-size:15.3px;line-height:15.3px;color:#2a2515;-webkit-text-stroke:0.35px #2a2515">LLAURÍ</div>
<div class="t" style="left:764.0px;top:761.4px;font-size:15.3px;line-height:15.3px;color:#2a2515;-webkit-text-stroke:0.35px #2a2515">ALBERIC</div>
<div class="t" style="left:842.8px;top:807.5px;font-size:15.3px;line-height:15.3px;color:#2a2515;-webkit-text-stroke:0.35px #2a2515">XÀTIVA</div>
<div class="t" style="left:940.0px;top:820.6px;font-size:15.3px;line-height:15.3px;color:#2a2515;-webkit-text-stroke:0.35px #2a2515">XERACO</div>
<div class="t" style="left:732.6px;top:822.0px;font-size:15.3px;line-height:15.3px;color:#2a2515;-webkit-text-stroke:0.35px #2a2515">SELLENT</div>
<div class="t" style="left:946.4px;top:858.5px;font-size:15.3px;line-height:15.3px;color:#2a2515;-webkit-text-stroke:0.35px #2a2515">GANDIA</div>
<div class="t" style="left:785.0px;top:853.5px;font-size:15.3px;line-height:15.3px;color:#2a2515;-webkit-text-stroke:0.35px #2a2515">JÁTIVA</div>
<div class="t" style="left:737.0px;top:883.3px;font-size:15.3px;line-height:15.3px;color:#2a2515;-webkit-text-stroke:0.35px #2a2515">CANALS</div>
<div class="t" style="left:676.5px;top:918.0px;font-size:15.3px;line-height:15.3px;color:#2a2515;-webkit-text-stroke:0.35px #2a2515">VALLADA</div>
<div class="t" style="left:769.0px;top:954.8px;font-size:15.3px;line-height:15.3px;color:#2a2515;-webkit-text-stroke:0.35px #2a2515">ALBAIDA</div>
<div class="t" style="left:889.5px;top:970.0px;font-size:15.3px;line-height:15.3px;color:#2a2515;-webkit-text-stroke:0.35px #2a2515">VALL DE GALLINERA</div>
<div class="t" style="left:783.0px;top:1000.5px;font-size:15.3px;line-height:15.3px;color:#2a2515;-webkit-text-stroke:0.35px #2a2515">AGRES</div>
<div class="t" style="left:932.0px;top:1017.0px;font-size:15.3px;line-height:15.3px;color:#2a2515;-webkit-text-stroke:0.35px #2a2515">JOLLOS</div>
<div class="t" style="left:624.8px;top:1046.0px;font-size:15.3px;line-height:15.3px;color:#2a2515;-webkit-text-stroke:0.35px #2a2515">BENEIXAMA</div>
<div class="t" style="left:859.0px;top:1046.0px;font-size:15.3px;line-height:15.3px;color:#2a2515;-webkit-text-stroke:0.35px #2a2515">GORGA</div>
<div class="t" style="left:757.0px;top:1076.5px;font-size:15.3px;line-height:15.3px;color:#2a2515;-webkit-text-stroke:0.35px #2a2515">ALCOY/ALCOI</div>
<div class="t" style="left:551.7px;top:1110.0px;font-size:15.3px;line-height:15.3px;color:#2a2515;-webkit-text-stroke:0.35px #2a2515">VILLENA</div>
<div class="t" style="left:708.5px;top:1111.5px;font-size:15.3px;line-height:15.3px;color:#2a2515;-webkit-text-stroke:0.35px #2a2515">ONIL</div>
<div class="t" style="left:771.0px;top:1117.6px;font-size:15.3px;line-height:15.3px;color:#2a2515;-webkit-text-stroke:0.35px #2a2515">IBI</div>
<div class="t" style="left:917.0px;top:1123.7px;font-size:15.3px;line-height:15.3px;color:#2a2515;-webkit-text-stroke:0.35px #2a2515">SELLA</div>
<div class="t" style="left:877.0px;top:1155.7px;font-size:15.3px;line-height:15.3px;color:#2a2515;-webkit-text-stroke:0.35px #2a2515">RELLEU</div>
<div class="t" style="left:676.5px;top:1157.0px;font-size:15.3px;line-height:15.3px;color:#2a2515;-webkit-text-stroke:0.35px #2a2515">CASTALLA</div>
<div class="t" style="left:624.8px;top:1172.4px;font-size:15.3px;line-height:15.3px;color:#2a2515;-webkit-text-stroke:0.35px #2a2515">SAX</div>
<div class="t" style="left:749.5px;top:1189.0px;font-size:15.3px;line-height:15.3px;color:#2a2515;-webkit-text-stroke:0.35px #2a2515">TIBI</div>
<div class="t" style="left:1016.0px;top:921.3px;font-size:15.3px;line-height:15.3px;color:#2a2515;-webkit-text-stroke:0.35px #2a2515">OLIVA</div>
<div class="t" style="left:1118.0px;top:975.5px;font-size:15.3px;line-height:15.3px;color:#2a2515;-webkit-text-stroke:0.35px #2a2515">DÉNIA</div>
<div class="t" style="left:1040.6px;top:1002.8px;font-size:15.3px;line-height:15.3px;color:#2a2515;-webkit-text-stroke:0.35px #2a2515">ORBA</div>
<div class="t" style="left:1141.0px;top:1018.0px;font-size:15.3px;line-height:15.3px;color:#2a2515;-webkit-text-stroke:0.35px #2a2515">JÁVEA/XÀBIA</div>
<div class="t" style="left:1008.7px;top:1059.7px;font-size:15.3px;line-height:15.3px;color:#2a2515;-webkit-text-stroke:0.35px #2a2515">TÁRBENA</div>
<div class="t" style="left:945.0px;top:911.0px;font-size:15.3px;line-height:15.3px;color:#2a2515;-webkit-text-stroke:0.35px #2a2515">ADOR</div>
<div class="t" style="left:1126.7px;top:1055.0px;font-size:15.3px;line-height:15.3px;color:#2a2515;-webkit-text-stroke:0.35px #2a2515">TEULADA</div>
<div class="t" style="left:1051.0px;top:1117.5px;font-size:15.3px;line-height:15.3px;color:#2a2515;-webkit-text-stroke:0.35px #2a2515">ALTEA</div>
<div class="t" style="left:984.0px;top:1167.7px;font-size:15.3px;line-height:15.3px;color:#2a2515;-webkit-text-stroke:0.35px #2a2515">BENIDORM</div>
<div class="t" style="left:392.8px;top:394.7px;font-size:16.9px;line-height:16.9px;color:#333;-webkit-text-stroke:0.2px #333">Interior Norte Valencia</div>
<div class="t" style="left:563.6px;top:836.7px;font-size:16.9px;line-height:16.9px;color:#333;-webkit-text-stroke:0.2px #333">Interior Sur Valencia</div>
<div class="t" style="left:700.0px;top:452.7px;font-size:16.9px;line-height:16.9px;color:#333;-webkit-text-stroke:0.2px #333">Litoral Norte Valencia</div>
<div class="t" style="left:894.0px;top:485.7px;font-size:16.9px;line-height:16.9px;color:#333;-webkit-text-stroke:0.2px #333">Costa Norte Valencia</div>
<div class="t" style="left:1081.8px;top:133.7px;font-size:16.9px;line-height:16.9px;color:#333;-webkit-text-stroke:0.2px #333">Costa Sur Castellón</div>
<div class="t" style="left:772.0px;top:740.4px;font-size:16.9px;line-height:16.9px;color:#333;-webkit-text-stroke:0.2px #333">Litoral Sur Valencia</div>
<div class="t" style="left:951.0px;top:776.7px;font-size:16.9px;line-height:16.9px;color:#333;-webkit-text-stroke:0.2px #333">Costa Sur Valencia</div>
<div class="t" style="left:935.0px;top:1026.7px;font-size:16.9px;line-height:16.9px;color:#333;-webkit-text-stroke:0.2px #333">Litoral Norte Alicante</div>
<div class="t" style="left:1176.0px;top:1032.7px;font-size:16.9px;line-height:16.9px;color:#333;-webkit-text-stroke:0.2px #333">Costa Norte Alicante</div>
<div class="t" style="left:615.6px;top:1155.7px;font-size:16.9px;line-height:16.9px;color:#333;-webkit-text-stroke:0.2px #333">Interior Alicante</div>
<div class="abs" style="left:1284px;top:1037.0px;width:17px;height:17px;background:#a6a6a6;border:1.5px solid #555"></div>
<div class="t" style="left:1315.3px;top:1038.9px;font-size:16.7px;line-height:16.7px;color:#111;">Sin riesgo Costa</div>
<div class="abs" style="left:1284px;top:1067.4px;width:17px;height:17px;background:#a7cd87;border:1.5px solid #555"></div>
<div class="t" style="left:1315.3px;top:1069.3px;font-size:16.7px;line-height:16.7px;color:#111;">Sin riesgo</div>
<div class="abs" style="left:1284px;top:1097.8px;width:17px;height:17px;background:#f2e32b;border:1.5px solid #555"></div>
<div class="t" style="left:1315.3px;top:1099.7px;font-size:16.7px;line-height:16.7px;color:#111;">Riesgo bajo</div>
<div class="abs" style="left:1284px;top:1128.8px;width:17px;height:17px;background:#ff9900;border:1.5px solid #555"></div>
<div class="t" style="left:1315.3px;top:1130.7px;font-size:16.7px;line-height:16.7px;color:#111;">Riesgo importante</div>
<div class="abs" style="left:1284px;top:1160.2px;width:17px;height:17px;background:#e8392f;border:1.5px solid #555"></div>
<div class="t" style="left:1315.3px;top:1162.1px;font-size:16.7px;line-height:16.7px;color:#111;">Riesgo extremo</div>

<div class="t" style="left:144px;top:157px;font-size:20.5px;line-height:24px;color:#8a8a8a;letter-spacing:-0.8px">GENERALITAT</div>
<div class="t" style="left:147.5px;top:178.3px;font-size:20.5px;line-height:24px;color:#8a8a8a;letter-spacing:-0.45px">VALENCIANA</div>
<svg class="abs" style="left:100px;top:135px" width="300" height="90">
 <g fill="#d4d4d4" stroke="#8a8a8a" stroke-width="1.5">
  <path d="M15 12 Q20 8 25 12 Q33 11 32 19 L31 28 L14 28 Q11 19 15 12 Z"/>
  <path d="M13 28 L33 28 L35 34 L35 43 Q34 52 26 54 L17 55 L13 47 Z"/>
 </g>
 <g fill="none" stroke="#8a8a8a" stroke-width="1.4">
  <path d="M17 16 Q24 12 27 18 Q22 20 22 26 M14 32 L34 32 M24 32 L24 54 M18 36 L18 50 M29 36 L29 45 M27 39 L31 39"/>
 </g>
 <clipPath id="gvclip"><path d="M25 52 Q34 58 37 68 Q36 78 31 82 Q18 78 8 66 Q14 56 25 52 Z"/></clipPath>
 <g stroke="#8a8a8a" stroke-width="3.4" clip-path="url(#gvclip)"><path d="M-22 50 L12 84 M-14.5 50 L19.5 84 M-7 50 L27 84 M0.5 50 L34.5 84 M8 50 L42 84 M15.5 50 L49.5 84"/></g>
 <path d="M255 50 A31 31 0 0 1 286 20" fill="none" stroke="#8e8e8e" stroke-width="0" />
 <g fill="none" stroke="#8e8e8e" stroke-width="3.6">
  <path d="M255.5 14 A31 31 0 0 1 286.5 45.7"/>
  <path d="M255.5 24.5 A21 21 0 0 1 276.5 45.5"/>
  <path d="M255.5 32.5 A12.5 12.5 0 0 1 268 45"/>
 </g>
</svg>
<div class="t" style="left:320px;top:169.5px;font-size:28.5px;line-height:30px;color:#8a8a8a;font-weight:bold;letter-spacing:-1.6px">112</div>
<div class="abs" style="left:321px;top:199px;width:42px;height:5px;background:repeating-linear-gradient(90deg,#8e8e8e 0 4px,#cfcfcf 4px 6px)"></div>
<div class="abs" style="left:321px;top:205.5px;width:42px;height:3.5px;background:repeating-linear-gradient(90deg,#8e8e8e 0 3px,#c8c8c8 3px 4px)"></div>
<div class="abs" style="left:321px;top:210.5px;width:42px;height:3px;background:repeating-linear-gradient(90deg,#a0a0a0 0 3px,#d8d8d8 3px 4px)"></div>

<div class="abs" style="left:37px;top:141px;width:38px;height:39px;background:#7f9dc3;border-radius:3px 3px 0 0"></div>
<div class="abs" style="left:37px;top:182px;width:38px;height:38px;background:#7f9dc3;border-radius:0 0 3px 3px"></div>
<div class="abs" style="left:47.5px;top:161px;width:17px;height:4px;background:#fff"></div><div class="abs" style="left:54px;top:154.5px;width:4px;height:17px;background:#fff"></div>
<div class="abs" style="left:47px;top:202px;width:18px;height:3.5px;background:#fff"></div>

<div class="abs card"><div class="abs cardh"></div></div>
<div class="t" style="left:1858px;top:35px;font-size:27.3px;line-height:32px;font-weight:bold">Preemergencias vigentes</div>
<div class="t" style="left:1534.7px;top:118.8px;font-size:24.45px;line-height:24.45px;font-weight:bold;color:#212529;text-decoration:underline;text-decoration-thickness:2.5px;text-underline-offset:3px">CASTELLÓN</div>
<div class="t" style="left:1534.7px;top:180.1px;font-size:24.85px;line-height:24.85px;font-weight:normal;color:#212529;">•</div>
<div class="t" style="left:1557.0px;top:180.1px;font-size:24.85px;line-height:24.85px;font-weight:normal;color:#212529;">FIN ALERTA POR LLUVIAS NIVEL AMARILLO EN EL LITORAL NORTE</div>
<div class="t" style="left:1534.7px;top:241.7px;font-size:24.85px;line-height:24.85px;font-weight:normal;color:#212529;">•</div>
<div class="t" style="left:1557.0px;top:241.7px;font-size:24.85px;line-height:24.85px;font-weight:normal;color:#212529;">ALERTA POR LLUVIAS NIVEL AMARILLO EN EL LITORAL SUR Y EN EL INTERIOR</div>
<div class="t" style="left:1534.7px;top:340.6px;font-size:24.85px;line-height:24.85px;font-weight:normal;color:#212529;">•</div>
<div class="t" style="left:1557.0px;top:340.6px;font-size:24.85px;line-height:24.85px;font-weight:normal;color:#212529;">ALERTA POR TORMENTAS NIVEL AMARILLO EN EL LITORAL SUR.</div>
<div class="t" style="left:1534.7px;top:464.2px;font-size:24.85px;line-height:24.85px;font-weight:normal;color:#212529;">•</div>
<div class="t" style="left:1557.0px;top:464.2px;font-size:24.85px;line-height:24.85px;font-weight:normal;color:#212529;">ALERTA POR LLUVIAS NIVEL NARANJA EN TODA LA PROVINCIA</div>
<div class="t" style="left:1534.7px;top:525.7px;font-size:24.85px;line-height:24.85px;font-weight:normal;color:#212529;">•</div>
<div class="t" style="left:1557.0px;top:525.7px;font-size:24.85px;line-height:24.85px;font-weight:normal;color:#212529;">ALERTA POR TORMENTAS NIVEL AMARILLO EN TODA LA PROVINCIA</div>
<div class="t" style="left:1534.7px;top:649.5px;font-size:24.85px;line-height:24.85px;font-weight:normal;color:#212529;">•</div>
<div class="t" style="left:1557.0px;top:649.5px;font-size:24.85px;line-height:24.85px;font-weight:normal;color:#212529;">ALERTA POR LLUVIAS NIVEL AMARILLO EN TODO EL LITORAL</div>
<div class="t" style="left:1534.7px;top:278.5px;font-size:24.85px;line-height:24.85px;font-weight:normal;color:#212529;">SUR</div>
<div class="t" style="left:1534.7px;top:402.6px;font-size:24.45px;line-height:24.45px;font-weight:bold;color:#212529;text-decoration:underline;text-decoration-thickness:2.5px;text-underline-offset:3px">VALENCIA</div>
<div class="t" style="left:1534.7px;top:587.9px;font-size:24.45px;line-height:24.45px;font-weight:bold;color:#212529;text-decoration:underline;text-decoration-thickness:2.5px;text-underline-offset:3px">ALICANTE</div>
<div class="t" style="left:1534.4px;top:841.6px;font-size:24.73px;line-height:24.73px;font-weight:normal;color:#0d6efd;text-decoration:underline;text-decoration-thickness:2px;text-underline-offset:3px">Consultar Aviso de Riesgo</div>

<div class="abs alert"></div>
<div class="t" style="left:1536.0px;top:1015.5px;font-size:22.3px;line-height:22.3px;font-weight:normal;color:#052c65;">Para información meteorológica detallada, consultar la página de avisos de la <span style="color:#0d6efd;text-decoration:underline">Agencia Estatal de</span></div>
<div class="t" style="left:1536.0px;top:1047.9px;font-size:22.3px;line-height:22.3px;font-weight:normal;color:#0d6efd;"><span style="text-decoration:underline">Meteorología.</span></div>
<svg class="abs" style="left:1680px;top:1035px" width="100" height="50">
 <g fill="none" stroke-linecap="round" stroke-linejoin="round">
  <path d="M8.6 35.4 L21 10.3 L25.1 35" stroke="#1d4f9e" stroke-width="2.9"/>
  <path d="M11.1 31.3 Q20 22 39 22.2" stroke="#f7d81a" stroke-width="2.6"/>
  <path d="M49.3 11.9 L32.5 13.6 L32 34.5 L42.8 32.9" stroke="#fb5f12" stroke-width="2.7"/>
  <path d="M42.8 30 L47.3 17.7 L50.2 28 L55.9 17.3 L58.4 32.9" stroke="#5a72c0" stroke-width="2.4"/>
  <path d="M61.3 28.4 Q69.9 25.5 67.4 22.2 Q62.5 21.4 61.7 28.8 Q61.7 33.7 67.4 32.9" stroke="#5a72c0" stroke-width="2.3"/>
  <path d="M67 16 L83.9 17.7 M76.5 13.6 L71.5 33.7 L74 35" stroke="#5a72c0" stroke-width="2.3"/>
  <path d="M8 41.5 L79 41.5" stroke="#9aaee0" stroke-width="1.8" stroke-dasharray="3 1"/>
 </g>
</svg>

</body></html>
